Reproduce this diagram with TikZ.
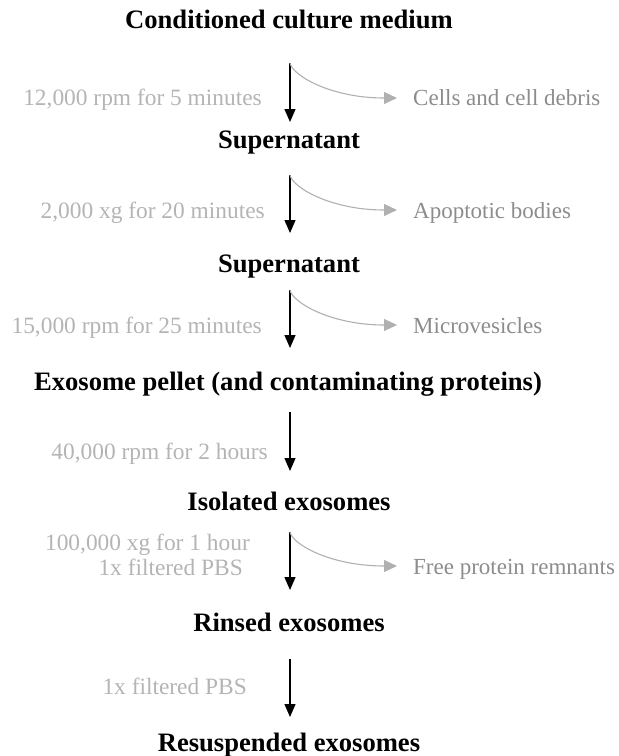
\documentclass[tikz,border=0pt]{standalone}
\usepackage{fontspec}
\setmainfont{Liberation Serif}
\usetikzlibrary{arrows.meta}
\definecolor{lab}{HTML}{B4B4B4}
\definecolor{outc}{HTML}{8C8C8C}
\definecolor{crv}{HTML}{B0B0B0}
\begin{document}
\begin{tikzpicture}[x=1pt,y=-1pt,
 title/.style={font=\fontsize{26.6}{30}\selectfont\bfseries, anchor=base, inner sep=0},
 cond/.style={font=\fontsize{23.4}{27}\selectfont, text=lab, anchor=base east, inner sep=0},
 waste/.style={font=\fontsize{23}{27}\selectfont, text=outc, anchor=base west, inner sep=0},
 mainarrow/.style={draw=black, line width=1.3pt, -{Triangle[width=11pt,length=13pt]}},
 sidearrow/.style={draw=crv, line width=1.1pt, -{Triangle[width=12pt,length=13pt]}}]
\useasboundingbox (0,0) rectangle (619,756);
% titles
\node[title] (t1) at (289,28) {Conditioned culture medium};
\node[title] (t2) at (289,148) {Supernatant};
\node[title] (t3) at (289,272) {Supernatant};
\node[title] (t4) at (288,390) {Exosome pellet (and contaminating proteins)};
\node[title] (t5) at (289,510) {Isolated exosomes};
\node[title] (t6) at (289,631) {Rinsed exosomes};
\node[title] (t7) at (289,751) {Resuspended exosomes};
% arrow coordinates
\coordinate (s1) at (290,63);  \coordinate (e1) at (290,122);
\coordinate (s2) at (290,175); \coordinate (e2) at (290,233);
\coordinate (s3) at (290,290); \coordinate (e3) at (290,348);
\coordinate (s4) at (290,412); \coordinate (e4) at (290,471);
\coordinate (s5) at (290,532); \coordinate (e5) at (290,590);
\coordinate (s6) at (290,659); \coordinate (e6) at (290,717);
\coordinate (c1) at (397,98);
\coordinate (c2) at (397,210);
\coordinate (c3) at (397,325);
\coordinate (c5) at (397,566);
% condition labels
\node[cond] (l1) at (262,105) {12,000 rpm for 5 minutes};
\node[cond] (l2) at (265,218) {2,000 xg for 20 minutes};
\node[cond] (l3) at (262,333) {15,000 rpm for 25 minutes};
\node[cond] (l4) at (268,459) {40,000 rpm for 2 hours};
\node[cond] (l5a) at (250,550) {100,000 xg for 1 hour};
\node[cond] (l5b) at (243,575) {1x filtered PBS};
\node[cond] (l6) at (247,694) {1x filtered PBS};
% removed fractions
\node[waste] (r1) at (413,105) {Cells and cell debris};
\node[waste] (r2) at (413,218) {Apoptotic bodies};
\node[waste] (r3) at (413,333) {Microvesicles};
\node[waste] (r5) at (413,574) {Free protein remnants};
% main arrows
\draw[mainarrow] (s1) -- (e1);
\draw[mainarrow] (s2) -- (e2);
\draw[mainarrow] (s3) -- (e3);
\draw[mainarrow] (s4) -- (e4);
\draw[mainarrow] (s5) -- (e5);
\draw[mainarrow] (s6) -- (e6);
% side arrows
\draw[sidearrow] (s1) .. controls +(2,12) and +(-67,0) .. (c1);
\draw[sidearrow] (s2) .. controls +(2,12) and +(-67,0) .. (c2);
\draw[sidearrow] (s3) .. controls +(2,12) and +(-67,0) .. (c3);
\draw[sidearrow] (s5) .. controls +(2,12) and +(-67,0) .. (c5);
\end{tikzpicture}
\end{document}
